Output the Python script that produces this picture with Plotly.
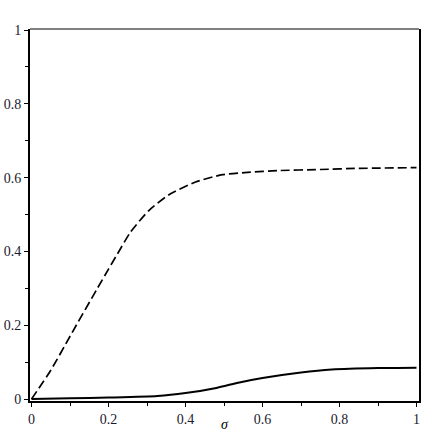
import plotly.graph_objects as go

# curva discontinua (superior)
sigma_a = [0.0, 0.05, 0.1, 0.171, 0.2, 0.223, 0.257, 0.304, 0.356, 0.426, 0.496, 0.561, 0.64, 0.75, 0.85, 1.0]
valor_a = [0.0, 0.078, 0.17, 0.30, 0.352, 0.393, 0.452, 0.51, 0.553, 0.588, 0.608, 0.614, 0.619, 0.622, 0.625, 0.627]

# curva continua (inferior)
sigma_b = [0.0, 0.1, 0.2, 0.327, 0.4, 0.48, 0.54, 0.6, 0.7, 0.78, 0.9, 1.0]
valor_b = [0.0, 0.002, 0.004, 0.008, 0.016, 0.03, 0.045, 0.057, 0.072, 0.08, 0.084, 0.085]

tick_vals = [0, 0.2, 0.4, 0.6, 0.8, 1]
tick_text = ['0', '0.2', '0.4', '0.6', '0.8', '1']

fig = go.Figure()

fig.add_trace(go.Scatter(
    x=sigma_a, y=valor_a, mode='lines',
    line=dict(color='black', width=1.7, dash='9px,4px', shape='spline', smoothing=0.6),
    showlegend=False
))

fig.add_trace(go.Scatter(
    x=sigma_b, y=valor_b, mode='lines',
    line=dict(color='black', width=2, shape='spline', smoothing=0.6),
    showlegend=False
))

# borde superior gris
fig.add_shape(type='line', xref='paper', yref='paper', x0=0, x1=1, y0=1, y1=1,
              line=dict(color='#808080', width=2))

# etiqueta del eje x
fig.add_annotation(x=0.5, y=0, xref='paper', yref='paper', yanchor='top',
                   yshift=-14, text='<i>σ</i>', showarrow=False,
                   font=dict(family='Liberation Serif', size=14, color='black'))

eje_font = dict(family='Liberation Serif', size=14, color='#1a1a2e')

fig.update_layout(
    width=436, height=432,
    margin=dict(l=30, r=17, t=29, b=31),
    plot_bgcolor='white', paper_bgcolor='white',
    xaxis=dict(
        range=[-0.004, 1.0065], tickvals=tick_vals, ticktext=tick_text,
        showgrid=False, zeroline=False, automargin=False,
        showline=True, linecolor='black', linewidth=2,
        ticks='outside', ticklen=4, tickcolor='black', tickwidth=1,
        minor=dict(ticks='outside', dtick=0.1, ticklen=3, tickcolor='black'),
        tickfont=eje_font,
    ),
    yaxis=dict(
        range=[-0.0054, 1.0027], tickvals=tick_vals, ticktext=tick_text,
        showgrid=False, zeroline=False, automargin=False,
        showline=True, linecolor='black', linewidth=2, mirror=True,
        ticks='outside', ticklen=4, tickcolor='black', tickwidth=1,
        minor=dict(ticks='outside', dtick=0.1, ticklen=3, tickcolor='black'),
        tickfont=eje_font,
    ),
)

fig.write_html("out.html", config={'displayModeBar': False},
               post_script="document.body.style.margin='0';")
